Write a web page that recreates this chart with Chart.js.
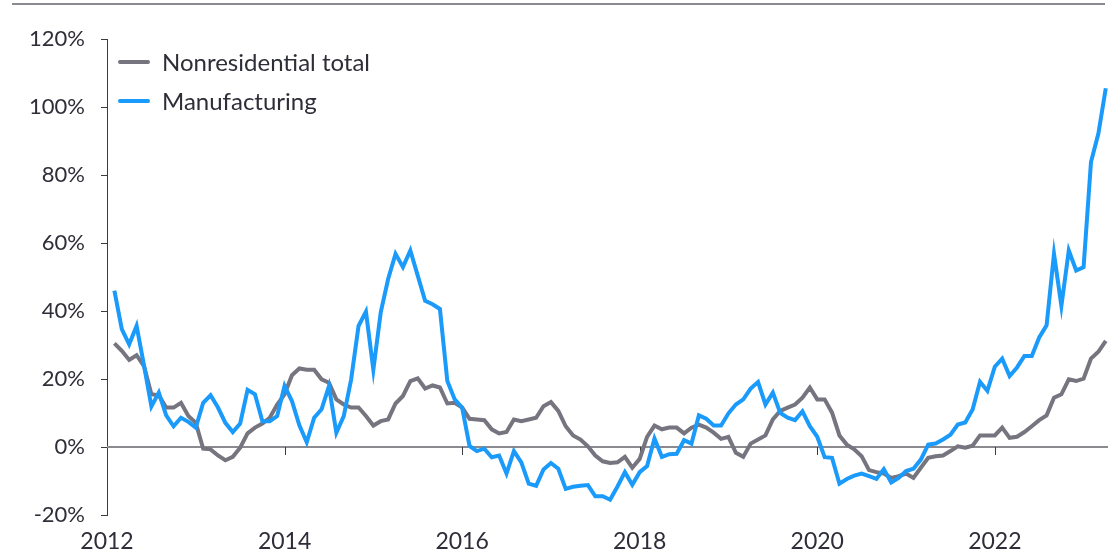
<!DOCTYPE html>
<html>
<head>
<meta charset="utf-8">
<script src="https://cdn.jsdelivr.net/npm/chart.js@4.4.0/dist/chart.umd.min.js"></script>
<style>
  body { margin: 0; background: #fff; font-family: "Lato", "Noto Sans", sans-serif; }
  .wrap { position: relative; width: 1117px; height: 553px; }
  .rule { position: absolute; left: 12px; top: 3px; width: 1093px; border-top: 2px solid #8a8a8f; }
  .legend { position: absolute; left: 118px; top: 42px; color: #2e2e38; font-size: 24px; }
  .legend div { display: flex; align-items: center; height: 39px; }
  .legend span.swatch { display: inline-block; width: 32px; height: 4px; margin-right: 12px; border-radius: 2px; }
</style>
</head>
<body>
<div class="wrap">
  <canvas id="chart" width="1117" height="553"></canvas>
  <div class="rule"></div>
  <div class="legend">
    <div><span class="swatch" style="background:#75747f"></span>Nonresidential total</div>
    <div><span class="swatch" style="background:#1a9afa"></span>Manufacturing</div>
  </div>
</div>
<script>
/* DATA - monthly, first point is Feb 2012 */
const firstMonth = 1;
const yearTicks = ["2012", "2014", "2016", "2018", "2020", "2022"];
const yTicks = [-20, 0, 20, 40, 60, 80, 100, 120];

const nonresidential = [
  30.5, 28.3, 25.6, 27.0, 23.8, 15.5, 15.2, 11.6, 11.6, 13.0, 9.1,
  7.1, -0.5, -0.7, -2.5, -3.9, -2.9, -0.2, 4.0, 5.7, 6.9, 8.6, 12.5,
  15.5, 21.1, 23.1, 22.7, 22.7, 19.9, 18.9, 14.0, 12.5, 11.6, 11.6, 9.1,
  6.3, 7.6, 8.1, 12.8, 15.0, 19.4, 20.2, 17.2, 18.1, 17.5, 12.8, 13.0,
  11.6, 8.3, 8.1, 7.9, 5.2, 4.0, 4.4, 8.1, 7.6, 8.1, 8.6, 12.0, 13.2,
  10.6, 6.1, 3.4, 2.2, 0.2, -2.5, -4.2, -4.7, -4.5, -2.9, -6.1, -3.5,
  3.0, 6.3, 5.2, 5.7, 5.7, 4.0, 5.7, 6.6, 5.7, 4.2, 2.4, 3.0,
  -1.7, -2.9, 1.0, 2.2, 3.4, 8.1, 10.6, 11.6, 12.5, 14.5, 17.5, 14.0,
  14.0, 10.1, 3.4, 0.7, -0.7, -2.7, -6.8, -7.4, -7.8, -9.1, -8.6, -7.8,
  -9.1, -6.1, -3.2, -2.7, -2.5, -1.2, 0.2, -0.2, 0.4, 3.4, 3.4, 3.4,
  5.7, 2.7, 3.0, 4.4, 6.1, 7.9, 9.3, 14.5, 15.5, 19.9, 19.4, 20.1,
  26.0, 28.0, 31.2
];

const manufacturing = [
  46.0, 34.7, 30.2, 35.6, 24.0, 11.9, 16.0, 9.3, 6.1, 8.6, 7.4,
  5.7, 13.0, 15.2, 11.6, 7.1, 4.4, 6.9, 16.8, 15.5, 7.6, 7.6, 9.1,
  18.0, 13.5, 6.4, 1.4, 8.6, 11.1, 17.9, 4.2, 9.1, 19.9, 35.6, 39.8,
  22.7, 39.6, 49.4, 56.8, 52.9, 57.8, 50.4, 43.0, 42.0, 40.6, 19.4, 14.0,
  11.6, 0.3, -1.2, -0.5, -3.0, -2.5, -7.8, -1.2, -4.5, -10.8, -11.4, -6.6,
  -4.7, -6.4, -12.3, -11.7, -11.4, -11.2, -14.5, -14.5, -15.5, -11.6, -7.4, -11.1,
  -7.4, -5.6, 2.5, -2.9, -2.1, -2.0, 2.0, 1.0, 9.3, 8.3, 6.3, 6.3,
  9.9, 12.5, 14.0, 17.2, 19.1, 12.5, 16.0, 10.0, 8.6, 7.9, 10.5, 6.1,
  3.0, -3.0, -3.2, -10.8, -9.4, -8.4, -7.8, -8.6, -9.4, -6.5, -10.4, -9.1,
  -7.1, -6.4, -3.7, 0.7, 1.0, 2.2, 3.6, 6.6, 7.2, 11.0, 19.2, 16.5,
  23.6, 26.0, 20.9, 23.4, 26.8, 26.8, 32.2, 35.8, 56.8, 41.5, 57.8, 51.9,
  52.9, 83.8, 92.2, 105.5
];

const toPoints = arr => arr.map((v, i) => ({ x: firstMonth + i, y: v }));

/* zero line with small year ticks hanging under it */
const zeroLine = {
  id: "zeroLine",
  beforeDatasetsDraw(chart) {
    const { ctx, chartArea, scales } = chart;
    const y0 = scales.y.getPixelForValue(0);
    ctx.save();
    ctx.strokeStyle = "#8a8a8f";
    ctx.lineWidth = 2;
    ctx.beginPath();
    ctx.moveTo(chartArea.left, y0);
    ctx.lineTo(chartArea.right, y0);
    ctx.stroke();
    ctx.strokeStyle = "#3a3a40";
    ctx.lineWidth = 1;
    yearTicks.forEach((t, i) => {
      if (i === 0) return;
      const x = Math.round(scales.x.getPixelForValue(i * 24)) + 0.5;
      ctx.beginPath();
      ctx.moveTo(x, y0);
      ctx.lineTo(x, y0 + 8);
      ctx.stroke();
    });
    ctx.restore();
  }
};

const ctx = document.getElementById("chart");

new Chart(ctx, {
  type: "line",
  data: {
    datasets: [
      {
        label: "Nonresidential total",
        data: toPoints(nonresidential),
        borderColor: "#75747f",
        borderWidth: 4,
        pointRadius: 0,
        tension: 0,
        order: 1
      },
      {
        label: "Manufacturing",
        data: toPoints(manufacturing),
        borderColor: "#1a9afa",
        borderWidth: 4,
        pointRadius: 0,
        tension: 0,
        order: 0
      }
    ]
  },
  options: {
    responsive: false,
    animation: false,
    layout: { padding: { top: 39, right: 9, left: 0, bottom: 0 } },
    plugins: {
      legend: { display: false },
      tooltip: { enabled: false }
    },
    scales: {
      x: {
        type: "linear",
        min: 0,
        max: 135.3,
        afterBuildTicks: s => { s.ticks = yearTicks.map((t, i) => ({ value: i * 24 })); },
        afterFit: s => { s.height = 38; },
        ticks: {
          color: "#2e2e38",
          font: { family: "Lato", size: 23 },
          padding: 13,
          maxRotation: 0,
          callback: v => yearTicks[v / 24]
        },
        grid: { display: false, drawTicks: false },
        border: { display: false }
      },
      y: {
        min: -20,
        max: 120,
        afterBuildTicks: s => { s.ticks = yTicks.map(v => ({ value: v })); },
        afterFit: s => { s.width = 107; },
        ticks: {
          color: "#2e2e38",
          font: { family: "Lato", size: 22 },
          padding: 16,
          callback: v => v + "%"
        },
        grid: { drawOnChartArea: false, drawTicks: true, tickLength: 6, color: "#3a3a40" },
        border: { display: true, color: "#3a3a40", width: 1 }
      }
    }
  },
  plugins: [zeroLine]
});
</script>
</body>
</html>
